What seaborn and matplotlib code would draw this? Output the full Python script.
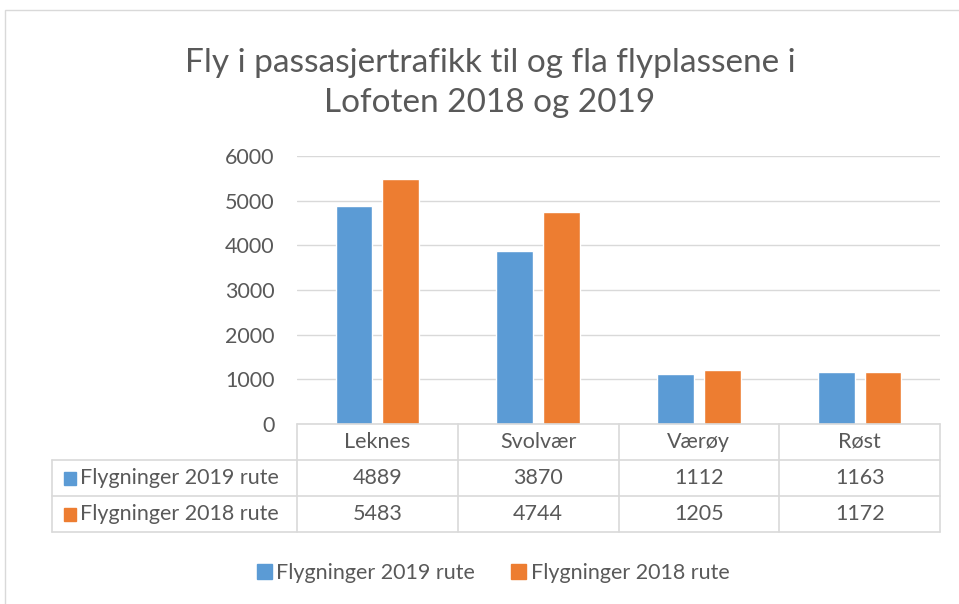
import matplotlib
matplotlib.use("Agg")
import matplotlib.pyplot as plt
import matplotlib.patches as mpatches
from matplotlib.lines import Line2D
import seaborn as sns
import pandas as pd

# data
airports = ["Leknes", "Svolvær", "Værøy", "Røst"]
series_names = ["Flygninger 2019 rute", "Flygninger 2018 rute"]
flights_2019 = [4889, 3870, 1112, 1163]
flights_2018 = [5483, 4744, 1205, 1172]
y_ticks = [0, 1000, 2000, 3000, 4000, 5000, 6000]

colors = ["#5B9BD5", "#ED7D31"]
text_col = "#595959"
line_col = "#D9D9D9"
fs = 15.5

df = pd.DataFrame({
    "airport": airports * 2,
    "serie": [series_names[0]] * 4 + [series_names[1]] * 4,
    "value": flights_2019 + flights_2018,
})

sns.set_theme(style="white")
plt.rcParams["font.family"] = ["Lato", "DejaVu Sans"]

W, H = 959, 604
fig = plt.figure(figsize=(W / 100, H / 100), dpi=100)

# plot area in pixels
x0, x1, y_top, y_bot = 297, 940, 156, 424
ax = fig.add_axes([x0 / W, 1 - y_bot / H, (x1 - x0) / W, (y_bot - y_top) / H])

sns.barplot(data=df, x="airport", y="value", hue="serie", order=airports,
            hue_order=series_names, palette=colors, width=0.58, gap=0.21,
            saturation=1, ax=ax, legend=False)

ax.set_xlim(-0.5, len(airports) - 0.5)
ax.set_ylim(0, 6000)
ax.set_yticks(y_ticks)
ax.set_yticklabels([str(t) for t in y_ticks])
ax.yaxis.grid(True, color=line_col, linewidth=1)
ax.set_axisbelow(True)
ax.tick_params(axis="y", length=0, pad=16, labelsize=fs, labelcolor=text_col)
ax.set_xticks([])
ax.set_xlabel("")
ax.set_ylabel("")
for s in ax.spines.values():
    s.set_visible(False)

# data table below the plot
ph = y_bot - y_top
pw = x1 - x0
def ay(py):
    return (y_bot - py) / ph
def ax_x(px):
    return (px - x0) / pw

row_h = 36
label_left = 52
ncat = len(airports)
col_edges = [i / ncat for i in range(ncat + 1)]
rows_y = [ay(y_bot + k * row_h) for k in range(4)]

def hline(xa, xb, y):
    ax.add_line(Line2D([xa, xb], [y, y], transform=ax.transAxes, color=line_col,
                       linewidth=1.2, clip_on=False))

def vline(x, ya, yb):
    ax.add_line(Line2D([x, x], [ya, yb], transform=ax.transAxes, color=line_col,
                       linewidth=1.2, clip_on=False))

hline(0, 1, rows_y[0])
for y in rows_y[1:]:
    hline(ax_x(label_left), 1, y)
for x in col_edges:
    vline(x, rows_y[0], rows_y[3])
vline(ax_x(label_left), rows_y[1], rows_y[3])

for i, name in enumerate(airports):
    cx = (i + 0.5) / ncat
    ax.text(cx, (rows_y[0] + rows_y[1]) / 2, name, transform=ax.transAxes,
            ha="center", va="center", fontsize=fs, color=text_col)

for r, (vals, name, c) in enumerate(zip([flights_2019, flights_2018], series_names, colors)):
    yc = (rows_y[r + 1] + rows_y[r + 2]) / 2
    for i, v in enumerate(vals):
        ax.text((i + 0.5) / ncat, yc, str(v), transform=ax.transAxes,
                ha="center", va="center", fontsize=fs, color=text_col)
    sq = 12 / pw
    ax.add_patch(mpatches.Rectangle((ax_x(label_left + 12), yc - 7 / ph), sq, 13 / ph,
                                    transform=ax.transAxes, color=c, clip_on=False))
    ax.text(ax_x(label_left + 28), yc, name, transform=ax.transAxes,
            ha="left", va="center", fontsize=fs, color=text_col)

# legend
handles = [mpatches.Patch(color=c, label=n) for c, n in zip(colors, series_names)]
fig.legend(handles=handles, loc="center", bbox_to_anchor=(493 / W, 1 - 573 / H),
           ncol=2, frameon=False, fontsize=fs, labelcolor=text_col,
           handlelength=0.7, handleheight=0.7, handletextpad=0.2, columnspacing=1.7)

# title
fig.text(490 / W, 1 - 83 / H, "Fly i passasjertrafikk til og fla flyplassene i\nLofoten 2018 og 2019",
         ha="center", va="center", fontsize=24, color=text_col, linespacing=1.45)

# chart frame
fig.add_artist(mpatches.Rectangle((5 / W, -0.5), 2, 1.5 - 10 / H, transform=fig.transFigure,
                                  fill=False, edgecolor=line_col, linewidth=1))

fig.savefig("out.png", dpi=100, facecolor="white")
